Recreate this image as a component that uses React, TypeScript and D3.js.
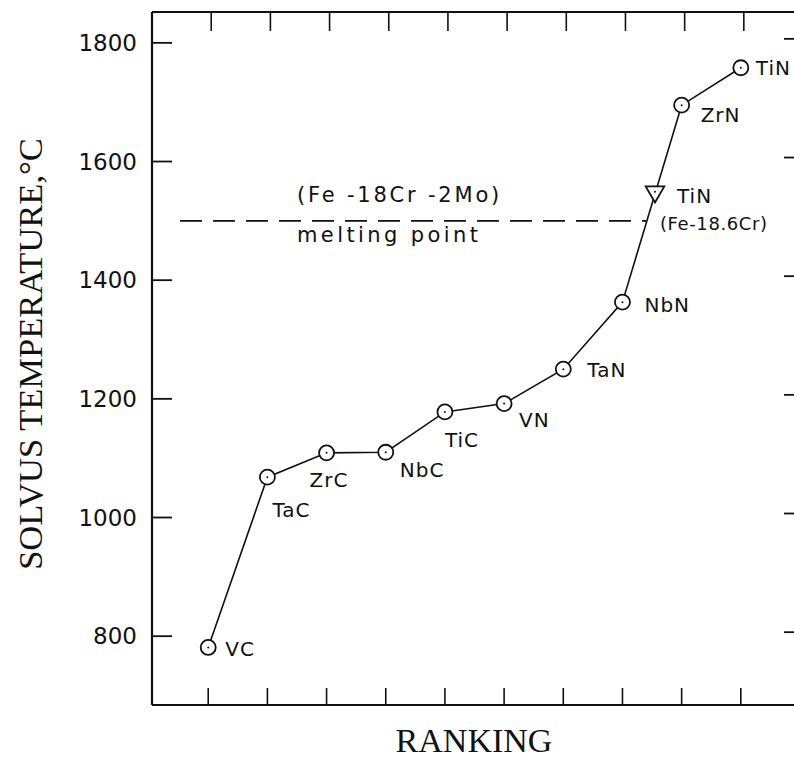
import { useEffect } from 'react';
import * as d3 from 'd3';

// ranking order (1..10) and solvus temperatures
const compounds = ['VC', 'TaC', 'ZrC', 'NbC', 'TiC', 'VN', 'TaN', 'NbN', 'ZrN', 'TiN'];
const ranks = [1, 2, 3, 4, 5, 6, 7, 8, 9, 10];
const solvusTemps = [781, 1068, 1109, 1110, 1178, 1192, 1250, 1363, 1695, 1758];

// TiN in Fe-18.6Cr (triangle marker)
const tinFeCrRank = [8.55];
const tinFeCrTemp = [1549];

// melting point of Fe-18Cr-2Mo
const meltingPoint = [1500];

const yTicks = [800, 1000, 1200, 1400, 1600, 1800];
const xTicks = [1, 2, 3, 4, 5, 6, 7, 8, 9, 10];

// label placement relative to each point (layout only)
const labelOffset: Record<string, [number, number]> = {
  VC: [17, 9],
  TaC: [5, 40],
  ZrC: [-17, 34],
  NbC: [14, 25],
  TiC: [0, 35],
  VN: [15, 23],
  TaN: [24, 8],
  NbN: [22, 10],
  ZrN: [19, 17],
  TiN: [15, 7],
};

const W = 794;
const H = 760;
const left = 152;
const right = 800;
const top = 12;
const bottom = 705;

export default function App() {
  useEffect(() => {
    document.body.style.margin = '0';
  }, []);

  const x = d3.scaleLinear().domain([0.05, 11]).range([left, right]);
  const y = d3.scaleLinear().domain([684, 1852]).range([bottom, top]);

  const pts = compounds.map((c, i) => ({ name: c, r: ranks[i], t: solvusTemps[i] }));
  const line = d3.line<{ r: number; t: number }>()
    .x(d => x(d.r))
    .y(d => y(d.t));

  const tri = d3.symbol().type(d3.symbolTriangle).size(150)();
  const triX = x(tinFeCrRank[0]);
  const triY = y(tinFeCrTemp[0]);

  const ink = '#111';
  const annoFont = "'DejaVu Sans', sans-serif";
  const serif = "'Liberation Serif', 'Times New Roman', serif";

  return (
    <svg width={W} height={H} style={{ display: 'block', background: '#fff' }}>
      {/* frame */}
      <line x1={left} x2={left} y1={top} y2={bottom} stroke={ink} strokeWidth={2.2} />
      <line x1={left} x2={right} y1={bottom} y2={bottom} stroke={ink} strokeWidth={2.2} />
      <line x1={left} x2={right} y1={top} y2={top} stroke={ink} strokeWidth={2.2} />
      <line x1={right} x2={right} y1={top} y2={bottom} stroke={ink} strokeWidth={2.2} />

      {/* y ticks, inward on both sides */}
      {yTicks.map(t => (
        <g key={'y' + t}>
          <line x1={left} x2={left + 20} y1={y(t)} y2={y(t)} stroke={ink} strokeWidth={1.8} />
          <line x1={right - 16} x2={right} y1={y(t) - 4} y2={y(t) - 4} stroke={ink} strokeWidth={1.8} />
          <text
            x={left - 15}
            y={y(t)}
            dy="0.36em"
            textAnchor="end"
            fontFamily={annoFont}
            fontSize={23}
            fill={ink}
          >
            {t}
          </text>
        </g>
      ))}

      {/* x ticks, inward on top and bottom */}
      {xTicks.map(r => (
        <g key={'x' + r}>
          <line x1={x(r)} x2={x(r)} y1={bottom} y2={bottom - 17} stroke={ink} strokeWidth={1.6} />
          <line x1={x(r) + 3} x2={x(r) + 3} y1={top} y2={top + 19} stroke={ink} strokeWidth={1.6} />
        </g>
      ))}

      {/* melting point line */}
      <line
        x1={180}
        x2={x(8.4)}
        y1={y(meltingPoint[0])}
        y2={y(meltingPoint[0])}
        stroke={ink}
        strokeWidth={1.8}
        strokeDasharray="22 11"
      />
      <text x={297} y={202} fontFamily={annoFont} fontSize={21} letterSpacing={2.8} fill={ink}>
        (Fe -18Cr -2Mo)
      </text>
      <text x={297} y={242} fontFamily={annoFont} fontSize={21} letterSpacing={3.4} fill={ink}>
        melting point
      </text>

      {/* solvus curve */}
      <path d={line(pts) || ''} fill="none" stroke={ink} strokeWidth={1.6} />
      {pts.map(p => (
        <g key={p.name}>
          <circle cx={x(p.r)} cy={y(p.t)} r={7.5} fill="#fff" stroke={ink} strokeWidth={1.8} />
          <circle cx={x(p.r)} cy={y(p.t)} r={1} fill={ink} />
          <text
            x={x(p.r) + labelOffset[p.name][0]}
            y={y(p.t) + labelOffset[p.name][1]}
            fontFamily={annoFont}
            fontSize={20}
            letterSpacing={1}
            fill={ink}
          >
            {p.name}
          </text>
        </g>
      ))}

      {/* TiN in Fe-18.6Cr */}
      <path
        d={tri || ''}
        transform={`translate(${triX},${triY}) rotate(180)`}
        fill="#fff"
        stroke={ink}
        strokeWidth={1.8}
      />
      <circle cx={triX} cy={triY} r={1} fill={ink} />
      <text x={triX + 22} y={triY + 11} fontFamily={annoFont} fontSize={20} letterSpacing={1} fill={ink}>
        TiN
      </text>
      <text x={triX + 5} y={triY + 38} fontFamily={annoFont} fontSize={18} letterSpacing={0.6} fill={ink}>
        (Fe-18.6Cr)
      </text>

      {/* axis titles */}
      <text
        transform={`translate(42, ${354}) rotate(-90)`}
        textAnchor="middle"
        fontFamily={serif}
        fontSize={34.5}
        fill={ink}
      >
        SOLVUS TEMPERATURE,°C
      </text>
      <text x={474} y={752} textAnchor="middle" fontFamily={serif} fontSize={34} fill={ink}>
        RANKING
      </text>
    </svg>
  );
}
